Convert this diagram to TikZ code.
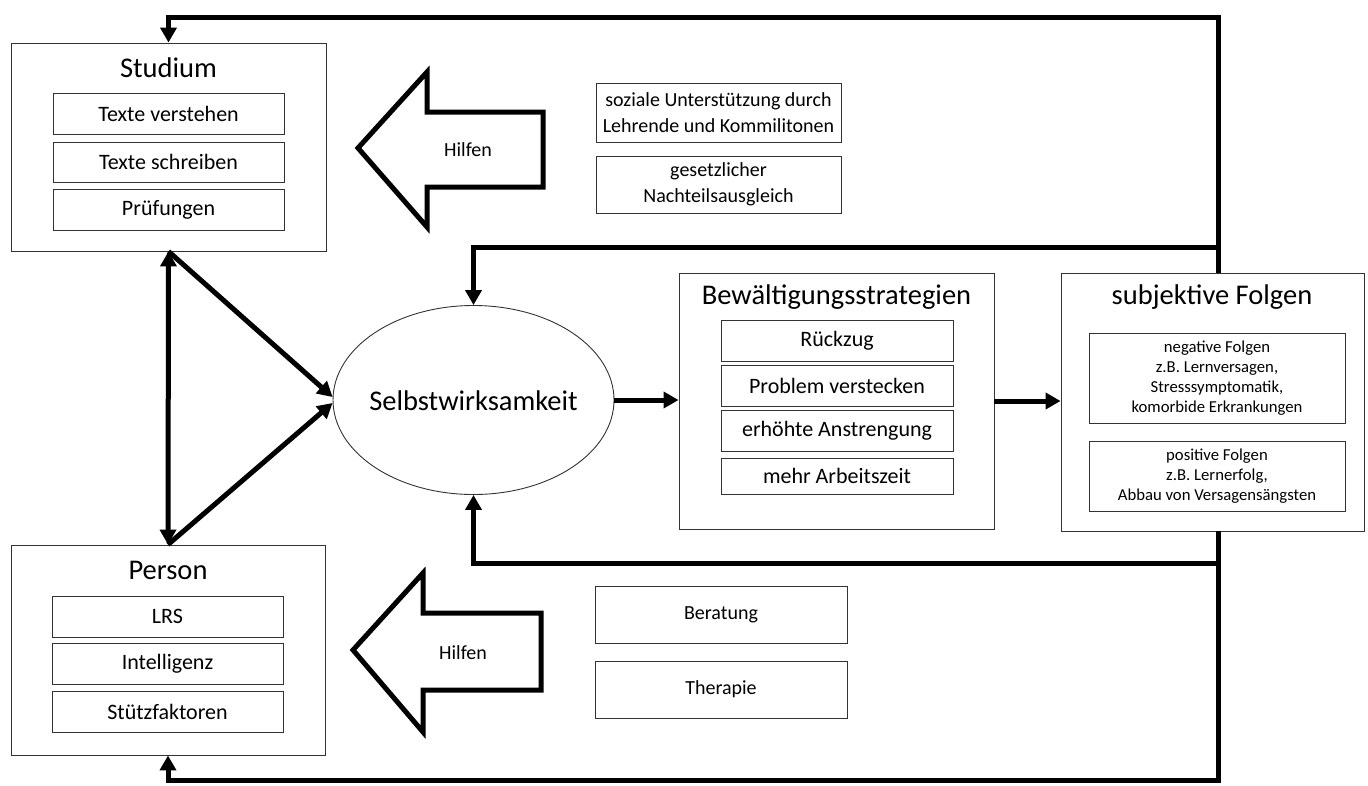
\documentclass[tikz,border=0pt]{standalone}
\usepackage{fontspec}
\setmainfont{Carlito}
\usetikzlibrary{arrows.meta,shapes.geometric}
\begin{document}
\begin{tikzpicture}[x=1pt,y=-1pt,
  box/.style={draw=black!80,line width=0.9pt,fill=white,inner sep=0pt,align=center},
  outerbox/.style={box},
  innerbox/.style={box,minimum height=41pt,font=\fontsize{22}{26}\selectfont},
  sidebox/.style={box,minimum width=245pt,font=\fontsize{20}{26.5}\selectfont},
  smallbox/.style={box,minimum width=256pt,font=\fontsize{16.7}{20}\selectfont},
  titletext/.style={inner sep=0pt,font=\fontsize{28.5}{34}\selectfont},
  conn/.style={line width=5pt,-{Triangle[length=15pt,width=16pt]}},
  biconn/.style={line width=5pt,{Triangle[length=15pt,width=16pt]}-{Triangle[length=15pt,width=16pt]}},
  blockarrow/.style={draw,line width=5pt,line join=miter,fill=white},
  hilfentext/.style={inner sep=0pt,font=\fontsize{20}{24}\selectfont}
]
\useasboundingbox (0,0) rectangle (1368,785);
\fill[white] (0,0) rectangle (1368,785);

% Studium
\node[outerbox,minimum width=315pt,minimum height=208pt] (stud) at (168.5,147) {};
\node[titletext] (studt) at (168.5,68) {Studium};
\node[innerbox,minimum width=231pt] (s1) at (168.5,113.5) {Texte verstehen};
\node[innerbox,minimum width=231pt,minimum height=40pt] (s2) at (168.5,162) {Texte schreiben};
\node[innerbox,minimum width=231pt] (s3) at (168.5,209.5) {Prüfungen};

% Person
\node[outerbox,minimum width=314pt,minimum height=210pt] (pers) at (168,650) {};
\node[titletext] (perst) at (168,570) {Person};
\node[innerbox,minimum width=231pt] (p1) at (167.5,616.5) {LRS};
\node[innerbox,minimum width=231pt] (p2) at (167.5,663.5) {Intelligenz};
\node[innerbox,minimum width=231pt] (p3) at (167.5,711.5) {Stützfaktoren};

% Hilfen top
\draw[blockarrow] (358,148) -- (427,72) -- (427,112) -- (543,112) -- (543,187) -- (427,187) -- (427,227) -- cycle;
\node[hilfentext] (h1) at (468,150) {Hilfen};
\node[sidebox,minimum height=59pt] (soz) at (718.5,112.5) {soziale Unterstützung durch\\Lehrende und Kommilitonen};
\node[sidebox,minimum height=57pt] (ges) at (718.5,184.5) {gesetzlicher\\Nachteilsausgleich};

% Hilfen bottom
\draw[blockarrow] (353,650) -- (423,573) -- (423,613) -- (541,613) -- (541,690) -- (423,690) -- (423,732) -- cycle;
\node[hilfentext] (h2) at (463,653) {Hilfen};
\node[sidebox,minimum width=252pt,minimum height=57pt] (ber) at (721,614.5) {Beratung};
\node[sidebox,minimum width=252pt,minimum height=57pt] (ther) at (721,689.5) {Therapie};

% Selbstwirksamkeit
\node[draw=black!80,line width=0.9pt,ellipse,minimum width=281pt,minimum height=189pt,inner sep=0pt] (sw) at (473.5,400) {};
\node[titletext] (swt) at (473.5,401) {Selbstwirksamkeit};

% Bewaeltigungsstrategien
\node[outerbox,minimum width=315pt,minimum height=256pt] (bew) at (836.5,401) {};
\node[titletext] (bewt) at (836.5,297) {Bewältigungsstrategien};
\node[innerbox,minimum width=232pt] (b1) at (837,340.5) {Rückzug};
\node[innerbox,minimum width=232pt] (b2) at (837,385.5) {Problem verstecken};
\node[innerbox,minimum width=232pt] (b3) at (837,430.5) {erhöhte Anstrengung};
\node[innerbox,minimum width=232pt,minimum height=36pt] (b4) at (837,476) {mehr Arbeitszeit};

% subjektive Folgen
\node[outerbox,minimum width=303pt,minimum height=258pt] (subj) at (1212.5,402) {};
\node[titletext] (subjt) at (1212,297) {subjektive Folgen};
\node[smallbox,minimum height=90pt] (neg) at (1217,378) {negative Folgen\\z.B. Lernversagen,\\Stresssymptomatik,\\komorbide Erkrankungen};
\node[smallbox,minimum height=70pt] (pos) at (1217,476) {positive Folgen\\z.B. Lernerfolg,\\Abbau von Versagensängsten};

% coordinates of the feedback frame
\coordinate (rt) at (1218,17);
\coordinate (rb) at (1218,780);
\coordinate (ju) at (1218,247);
\coordinate (jl) at (1218,563);

% connectors
\draw[biconn] (stud.south) -- (pers.north);
\draw[conn] (stud.south) -- ([yshift=3pt]sw.west);
\draw[conn] (pers.north) -- ([yshift=-3pt]sw.west);
\draw[conn] (sw.east) -- (sw.east -| bew.west);
\draw[conn] (bew.east) -- (bew.east -| subj.west);
\draw[conn] (subj.north -| rt) -- (rt) -| (stud.north);
\draw[conn] (subj.south -| rb) -- (rb) -| (pers.south);
\draw[conn] ([xshift=2.5pt]ju) -| (sw.north);
\draw[conn] ([xshift=2.5pt]jl) -| (sw.south);
\end{tikzpicture}
\end{document}
